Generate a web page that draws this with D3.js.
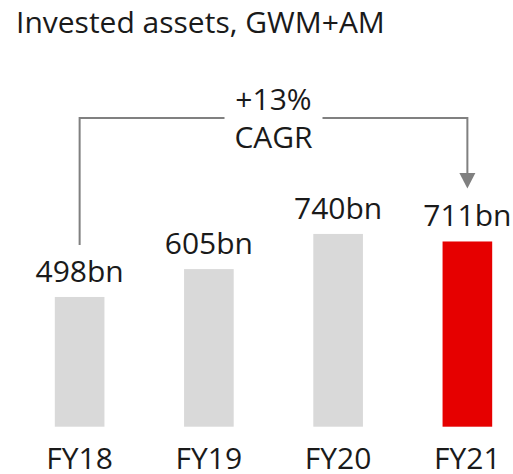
<!DOCTYPE html>
<html>
<head>
<meta charset="utf-8">
<script src="https://cdn.jsdelivr.net/npm/d3@7"></script>
<style>
  body { margin: 0; background: #fff; }
  svg { display: block; font-family: "Open Sans", sans-serif; }
</style>
</head>
<body>
<div id="chart"></div>
<script>
// Chart data
const years = ["FY18", "FY19", "FY20", "FY21"];
const values = [498, 605, 740, 711];
const labels = ["498bn", "605bn", "740bn", "711bn"];
const cagrText = ["+13%", "CAGR"];

const width = 513;
const height = 474;
const baseline = 426.7;

const svg = d3.select("#chart")
  .append("svg")
  .attr("width", width)
  .attr("height", height);

// Scales
const x = d3.scaleBand()
  .domain(years)
  .range([15, 532])
  .paddingInner(0.616)
  .paddingOuter(0.308);

const y = d3.scaleLinear()
  .domain([0, 1000])
  .range([baseline, baseline - 260.5]);

// Title
svg.append("text")
  .attr("x", 16)
  .attr("y", 33)
  .attr("font-size", 30)
  .attr("fill", "#1a1a1a")
  .text("Invested assets, GWM+AM");

// Bars
svg.selectAll("rect.bar")
  .data(years)
  .enter()
  .append("rect")
  .attr("class", "bar")
  .attr("x", d => x(d))
  .attr("width", x.bandwidth())
  .attr("y", (d, i) => y(values[i]))
  .attr("height", (d, i) => baseline - y(values[i]))
  .attr("fill", (d, i) => i === years.length - 1 ? "#e60000" : "#d9d9d9");

// Value labels
svg.selectAll("text.val")
  .data(years)
  .enter()
  .append("text")
  .attr("class", "val")
  .attr("x", d => x(d) + x.bandwidth() / 2)
  .attr("y", (d, i) => y(values[i]) - 15)
  .attr("text-anchor", "middle")
  .attr("font-size", 30)
  .attr("fill", "#1a1a1a")
  .text((d, i) => labels[i]);

// Category labels
svg.selectAll("text.cat")
  .data(years)
  .enter()
  .append("text")
  .attr("class", "cat")
  .attr("x", d => x(d) + x.bandwidth() / 2)
  .attr("y", 469)
  .attr("text-anchor", "middle")
  .attr("font-size", 30)
  .attr("fill", "#1a1a1a")
  .text(d => d);

// CAGR bracket
const x0 = x(years[0]) + x.bandwidth() / 2;
const x1 = x(years[3]) + x.bandwidth() / 2;
const topY = 118;
const startY = y(values[0]) - 52;
const endY = y(values[3]) - 53;
const mid = (x0 + x1) / 2;
const gap = 49;

svg.append("path")
  .attr("d", `M${x0},${startY}V${topY}H${mid - gap}M${mid + gap},${topY}H${x1}V${endY - 14}`)
  .attr("fill", "none")
  .attr("stroke", "#808080")
  .attr("stroke-width", 2);

svg.append("path")
  .attr("d", `M${x1 - 8},${endY - 15.5}L${x1 + 8},${endY - 15.5}L${x1},${endY}Z`)
  .attr("fill", "#808080");

svg.selectAll("text.cagr")
  .data(cagrText)
  .enter()
  .append("text")
  .attr("class", "cagr")
  .attr("x", mid)
  .attr("y", (d, i) => 110 + i * 38)
  .attr("text-anchor", "middle")
  .attr("font-size", 30)
  .attr("fill", "#1a1a1a")
  .text(d => d);
</script>
</body>
</html>
